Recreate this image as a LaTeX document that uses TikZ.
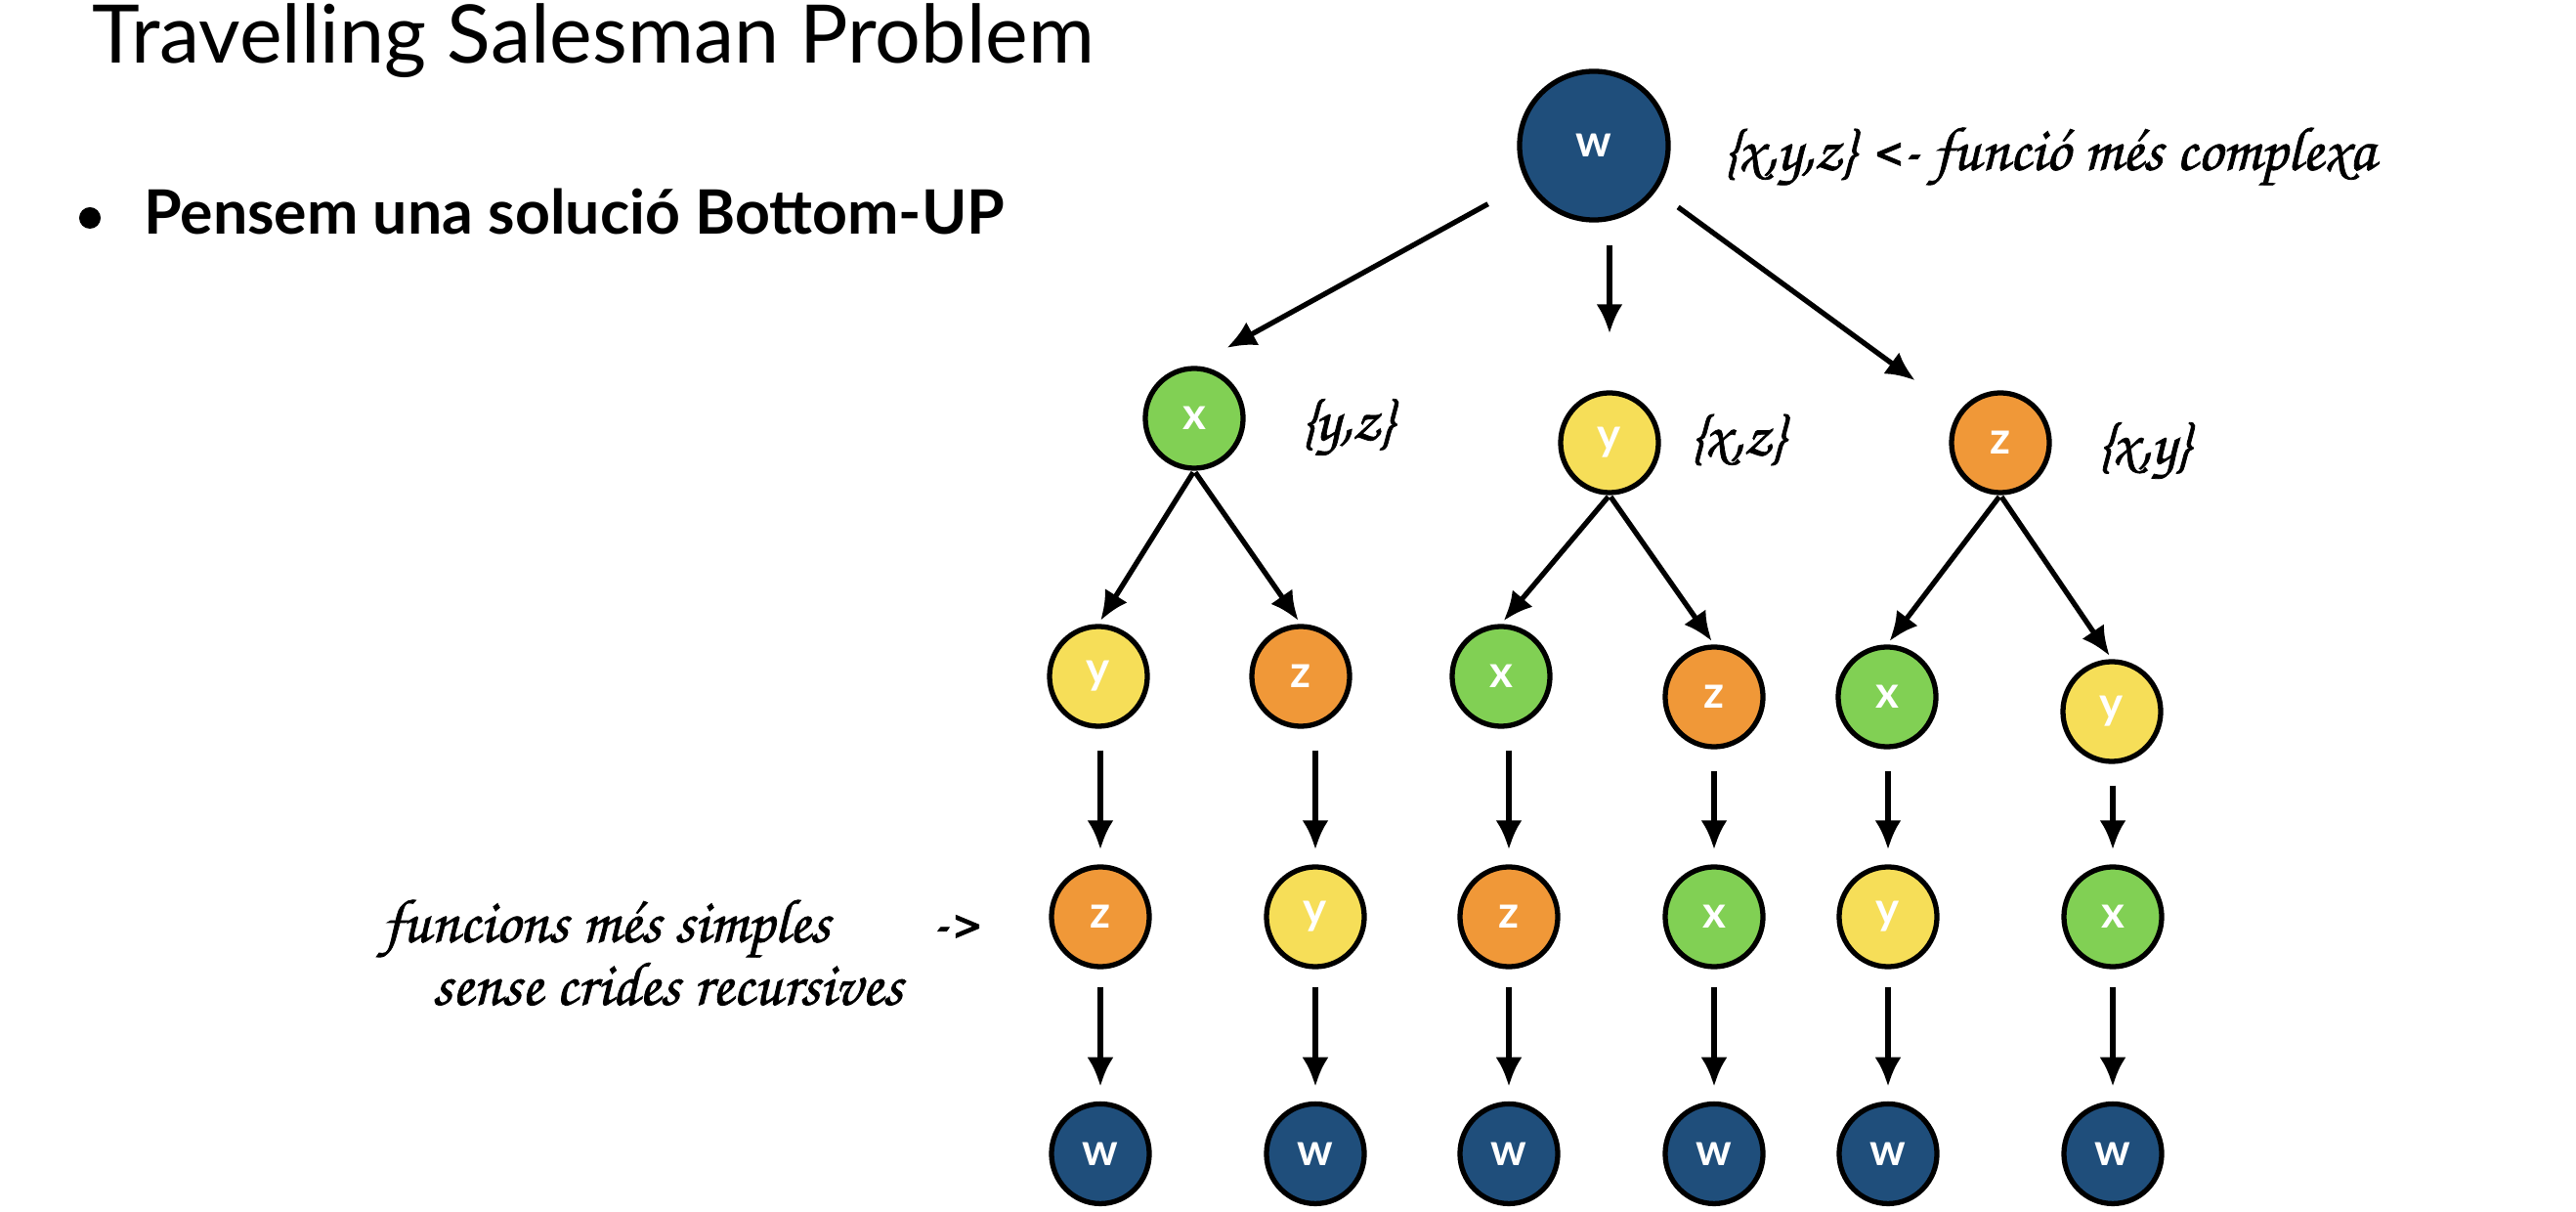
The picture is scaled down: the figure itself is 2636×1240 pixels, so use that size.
\documentclass[tikz,border=0pt]{standalone}
\usepackage{fontspec}
\setmainfont{Lato}
\newfontfamily\handfont[FakeBold=1.2]{texgyrechorus-mediumitalic.otf}
\usetikzlibrary{shapes.geometric, positioning, arrows.meta}
\definecolor{wblue}{RGB}{31,78,123}
\definecolor{xgreen}{RGB}{129,208,84}
\definecolor{yyellow}{RGB}{246,222,88}
\definecolor{zorange}{RGB}{240,152,56}
\tikzset{
    ->, % every edge is an arrow
    >={Latex[length=0.3cm,width=0.27cm]}, % filled heads
    city/.style={ellipse, draw, line width=1.5pt, minimum width=1.0cm, minimum height=1.02cm, inner sep=0pt, text=white, font=\bfseries\fontsize{13}{13}\selectfont}, % one node of the tree
    rootcity/.style={city, minimum width=1.52cm, minimum height=1.52cm, fill=wblue},
    hand/.style={font=\handfont\fontsize{18}{18}\selectfont, anchor=west}, % notes
    node distance=1.35cm, % row gap of the last row
}
\begin{document}
\begin{tikzpicture}[x=0.01cm, y=-0.01cm, line width=1.5pt]
\useasboundingbox (0,0) rectangle (2636,1240);
\node[anchor=base west, font=\fontsize{23.5}{23.5}\selectfont] (title) at (80,65) {Travelling Salesman Problem};
\node[circle, fill, inner sep=0pt, minimum size=0.22cm] (dot) at (92,223) {};
\node[anchor=base west, font=\bfseries\fontsize{17.8}{17.8}\selectfont] (bullet) at (133,240) {Pensem una solució Bottom-UP};

\node[rootcity] (w0) at (1631,149) {w};
\node[city, fill=xgreen] (x1) at (1222,428) {x};
\node[city, fill=yyellow] (y1) at (1647,453) {y};
\node[city, fill=zorange] (z1) at (2047,453) {z};

\node[city, fill=yyellow] (y2a) at (1124,692) {y};
\node[city, fill=zorange] (z2a) at (1331,692) {z};
\node[city, fill=xgreen] (x2b) at (1536,692) {x};
\node[city, fill=zorange] (z2b) at (1754,713) {z};
\node[city, fill=xgreen] (x2c) at (1931,713) {x};
\node[city, fill=yyellow] (y2c) at (2161,728) {y};

\node[city, fill=zorange] (z3a) at (1126,938) {z};
\node[city, fill=yyellow] (y3a) at (1346,938) {y};
\node[city, fill=zorange] (z3b) at (1544,938) {z};
\node[city, fill=xgreen] (x3b) at (1754,938) {x};
\node[city, fill=yyellow] (y3c) at (1932,938) {y};
\node[city, fill=xgreen] (x3c) at (2162,938) {x};

\node[city, fill=wblue, below=of z3a] (w4a) {w};
\node[city, fill=wblue, below=of y3a] (w4b) {w};
\node[city, fill=wblue, below=of z3b] (w4c) {w};
\node[city, fill=wblue, below=of x3b] (w4d) {w};
\node[city, fill=wblue, below=of y3c] (w4e) {w};
\node[city, fill=wblue, below=of x3c] (w4f) {w};

% notes
\node[hand] (allset) at (1748,160) {\{x,y,z\} <- funció més complexa};
\node[hand] (setx) at (1316,437) {\{y,z\}};
\node[hand] (sety) at (1714,450) {\{x,z\}};
\node[hand] (setz) at (2131,461) {\{x,y\}};
\node[hand] (simple) at (377,950) {funcions més simples};
\node[hand] (pointer) at (938,950) {->};
\node[hand] (norec) at (428,1007) {sense crides recursives};

% edges
\draw[shorten <=0.45cm, shorten >=0.38cm] (w0) -- (x1.north);
\draw[shorten <=0.23cm, shorten >=0.58cm] (y1 |- w0.south) -- (y1.north);
\draw[shorten <=0.28cm, shorten >=0.55cm] (w0) -- (z1);
\foreach \a/\b in {x1/y2a, x1/z2a, y1/x2b, y1/z2b, z1/x2c, z1/y2c}
    \draw[shorten <=0.02cm, shorten >=0.04cm] (\a.south) -- (\b.north);
\foreach \a/\b in {y2a/z3a, z2a/y3a, x2b/z3b, z2b/x3b, x2c/y3c, y2c/x3c}
    \draw[shorten <=0.22cm, shorten >=0.15cm] (\b |- \a.south) -- (\b.north);
\foreach \a/\b in {z3a/w4a, y3a/w4b, z3b/w4c, x3b/w4d, y3c/w4e, x3c/w4f}
    \draw[shorten <=0.18cm, shorten >=0.15cm] (\a.south) -- (\b.north);
\end{tikzpicture}
\end{document}
